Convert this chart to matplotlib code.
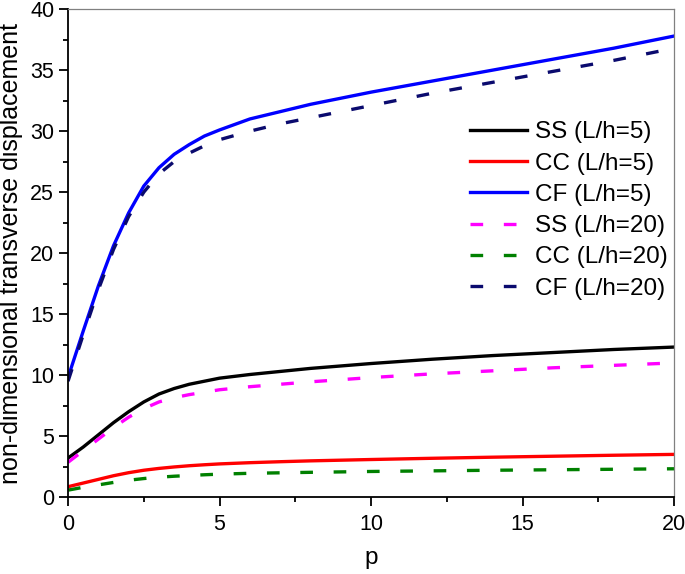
import numpy as np
import matplotlib
matplotlib.use("Agg")
import matplotlib.pyplot as plt
from matplotlib.ticker import MultipleLocator

plt.rcParams['font.family'] = ['Liberation Sans', 'DejaVu Sans']

# gradient index p
p = [0, 0.5, 1, 1.5, 2, 2.5, 3, 3.5, 4, 4.5, 5, 6, 7, 8, 10, 12, 14, 16, 18, 20]

# L/h = 5
ss_5 = [3.2, 4.1, 5.1, 6.1, 7.0, 7.8, 8.45, 8.9, 9.25, 9.5, 9.75, 10.05, 10.3, 10.55, 10.95, 11.3, 11.6, 11.85, 12.1, 12.3]
cc_5 = [0.85, 1.15, 1.45, 1.75, 2.0, 2.2, 2.35, 2.47, 2.57, 2.65, 2.72, 2.82, 2.9, 2.97, 3.08, 3.18, 3.27, 3.35, 3.43, 3.5]
cf_5 = [9.8, 13.6, 17.3, 20.6, 23.3, 25.5, 27.0, 28.1, 28.9, 29.6, 30.1, 31.0, 31.6, 32.2, 33.2, 34.1, 35.0, 35.9, 36.8, 37.8]

# L/h = 20
ss_20 = [2.85, 3.8, 4.75, 5.7, 6.55, 7.25, 7.8, 8.15, 8.4, 8.6, 8.8, 9.05, 9.25, 9.45, 9.8, 10.1, 10.35, 10.6, 10.8, 11.0]
cc_20 = [0.57, 0.8, 1.0, 1.2, 1.38, 1.52, 1.63, 1.71, 1.77, 1.83, 1.88, 1.95, 1.99, 2.03, 2.1, 2.15, 2.2, 2.24, 2.28, 2.32]
cf_20 = [9.5, 13.3, 17.0, 20.3, 23.0, 25.0, 26.5, 27.5, 28.2, 28.8, 29.3, 30.0, 30.6, 31.1, 32.1, 33.1, 34.0, 34.9, 35.8, 36.8]

fig = plt.figure(figsize=(6.85, 5.74), dpi=100)
ax = fig.add_axes([0.0993, 0.134, 0.885, 0.850])

lw = 2.4
dash = (3.8, 6.2)
ax.plot(p, ss_5, color='black', lw=lw, label='SS (L/h=5)')
ax.plot(p, cc_5, color='red', lw=lw, label='CC (L/h=5)')
ax.plot(p, cf_5, color='blue', lw=lw, label='CF (L/h=5)')
ax.plot(p, ss_20, color='magenta', lw=lw, dashes=dash, label='SS (L/h=20)')
ax.plot(p, cc_20, color='green', lw=lw, dashes=dash, label='CC (L/h=20)')
ax.plot(p, cf_20, color='#0a0a6e', lw=lw, dashes=dash, label='CF (L/h=20)')

ax.set_xlim(0, 20)
ax.set_ylim(0, 40)
ax.xaxis.set_major_locator(MultipleLocator(5))
ax.xaxis.set_minor_locator(MultipleLocator(2.5))
ax.yaxis.set_major_locator(MultipleLocator(5))
ax.yaxis.set_minor_locator(MultipleLocator(2.5))

for side in ['left', 'bottom']:
    ax.spines[side].set_linewidth(1.3)
for side in ['top', 'right']:
    ax.spines[side].set_linewidth(0.9)
    ax.spines[side].set_color('#808080')

ax.tick_params(which='major', direction='out', length=6.5, width=1.3, labelsize=15.5,
               top=False, right=False)
ax.tick_params(axis='x', which='major', pad=6)
ax.tick_params(which='minor', direction='out', length=3.5, width=1.3, top=False, right=False)

ax.set_xlabel('p', fontsize=17.5, labelpad=8)
ax.set_ylabel('non-dimensional transverse displacement', fontsize=18, labelpad=5)

ax.legend(loc='upper left', bbox_to_anchor=(0.663, 0.770), frameon=False, fontsize=17.5,
          handlelength=2.35, handletextpad=0.33, labelspacing=0.38, borderpad=0,
          borderaxespad=0)

fig.savefig('out.png', dpi=100)
